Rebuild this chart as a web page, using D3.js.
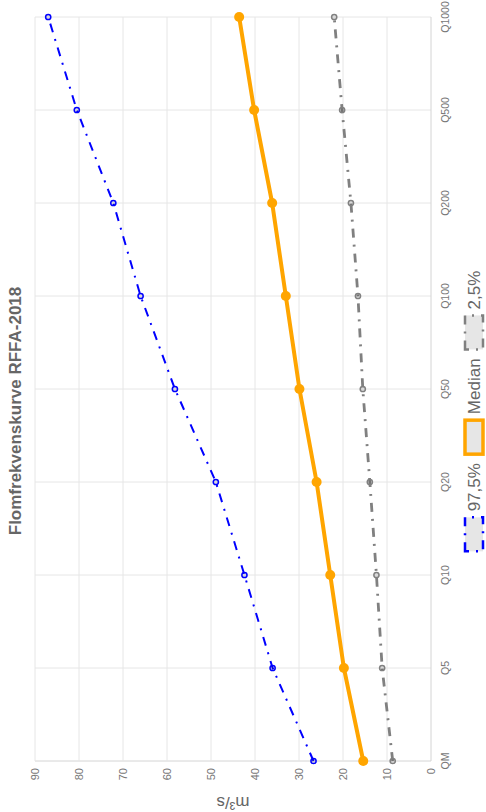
<!DOCTYPE html>
<html>
<head>
<meta charset="utf-8">
<script src="https://cdn.jsdelivr.net/npm/d3@7"></script>
<style>
  html, body { margin: 0; padding: 0; background: #fff; }
  svg { display: block; }
  text { font-family: "Liberation Sans", Arial, sans-serif; }
</style>
</head>
<body>
<svg id="chart" width="486" height="812"></svg>
<script>
const title = "Flomfrekvenskurve RFFA-2018";
const yAxisLabel = "m³/s";
const categories = ["QM", "Q5", "Q10", "Q20", "Q50", "Q100", "Q200", "Q500", "Q1000"];
const yTicks = [0, 10, 20, 30, 40, 50, 60, 70, 80, 90];
const seriesNames = ["97,5%", "Median", "2,5%"];
const upper = [26.7, 36.0, 42.4, 48.9, 58.2, 66.0, 72.2, 80.5, 87.0];
const median = [15.4, 19.8, 22.9, 26.0, 29.9, 33.0, 36.1, 40.2, 43.6];
const lower = [8.7, 11.1, 12.4, 13.9, 15.5, 16.6, 18.2, 20.2, 22.0];

// chart drawn in a 812x486 frame, then rotated -90deg into the 486x812 page
const svg = d3.select("#chart");
const g = svg.append("g").attr("transform", "translate(0,812) rotate(-90)");

const x = d3.scalePoint().domain(categories).range([51, 795]);
const y = d3.scaleLinear().domain([0, 90]).range([431, 35]);

const series = [
  { name: seriesNames[0], values: upper, color: "#0000ff", width: 2, dash: "9,7,2,7", r: 2.6, pfill: "rgba(0,0,0,0.1)", pstroke: 1.5 },
  { name: seriesNames[1], values: median, color: "#ffa500", width: 4, dash: null, r: 5, pfill: "#ffa500", pstroke: 0 },
  { name: seriesNames[2], values: lower, color: "#808080", width: 2.8, dash: "9,7,2,7", r: 2.6, pfill: "rgba(0,0,0,0.1)", pstroke: 1.5 }
];

// grid
const grid = g.append("g");
grid.selectAll("line.vg").data(categories).join("line")
  .attr("x1", d => x(d)).attr("x2", d => x(d))
  .attr("y1", y(90)).attr("y2", y(0))
  .attr("stroke", d => d === categories[0] ? "#d4d4d4" : "#e6e6e6").attr("stroke-width", 1);
grid.selectAll("line.hg").data(yTicks).join("line")
  .attr("x1", x(categories[0])).attr("x2", x(categories[categories.length - 1]))
  .attr("y1", d => y(d)).attr("y2", d => y(d))
  .attr("stroke", d => d === 0 ? "#d4d4d4" : "#e6e6e6").attr("stroke-width", 1);

// axes labels
g.append("g").selectAll("text").data(yTicks).join("text")
  .attr("x", x(categories[0]) - 7).attr("y", d => y(d))
  .attr("text-anchor", "end").attr("dominant-baseline", "central")
  .attr("font-size", 11).attr("fill", "#777").text(d => d);

g.append("g").selectAll("text").data(categories).join("text")
  .attr("x", d => x(d)).attr("y", 445)
  .attr("text-anchor", "middle").attr("dominant-baseline", "central")
  .attr("font-size", 10.5).attr("fill", "#777").text(d => d);

g.append("text")
  .attr("transform", `translate(10,${(y(0) + y(90)) / 2}) rotate(-90)`)
  .attr("text-anchor", "middle").attr("dominant-baseline", "central")
  .attr("font-size", 17).attr("fill", "#666").text(yAxisLabel);

// title
g.append("text")
  .attr("x", 401).attr("y", 15)
  .attr("text-anchor", "middle").attr("dominant-baseline", "central")
  .attr("font-size", 17).attr("font-weight", "bold").attr("fill", "#666").text(title);

// lines
const line = d3.line().x((d, i) => x(categories[i])).y(d => y(d));
series.forEach(s => {
  const sg = g.append("g");
  sg.append("path").datum(s.values)
    .attr("d", line).attr("fill", "none")
    .attr("stroke", s.color).attr("stroke-width", s.width)
    .attr("stroke-dasharray", s.dash)
    .attr("stroke-linejoin", "round");
  sg.selectAll("circle").data(s.values).join("circle")
    .attr("cx", (d, i) => x(categories[i])).attr("cy", d => y(d))
    .attr("r", s.r).attr("fill", s.pfill)
    .attr("stroke", s.color).attr("stroke-width", s.pstroke);
});

// legend
const legend = g.append("g");
const boxW = 34, boxH = 18, gapText = 6, gapItem = 9, fs = 17;
const items = series.map(s => {
  const it = legend.append("g");
  it.append("rect").attr("width", boxW).attr("height", boxH)
    .attr("x", 0).attr("y", -boxH / 2)
    .attr("fill", "#e6e6e6").attr("stroke", s.color)
    .attr("stroke-width", s.dash ? 2.5 : 3.5)
    .attr("stroke-dasharray", s.dash);
  const t = it.append("text").attr("x", boxW + gapText).attr("y", 0)
    .attr("dominant-baseline", "central").attr("font-size", fs).attr("fill", "#666").text(s.name);
  return { g: it, w: boxW + gapText + t.node().getComputedTextLength() };
});
const total = d3.sum(items, d => d.w) + gapItem * (items.length - 1);
let cx = 401 - total / 2;
items.forEach(it => {
  it.g.attr("transform", `translate(${cx},474)`);
  cx += it.w + gapItem;
});
</script>
</body>
</html>
